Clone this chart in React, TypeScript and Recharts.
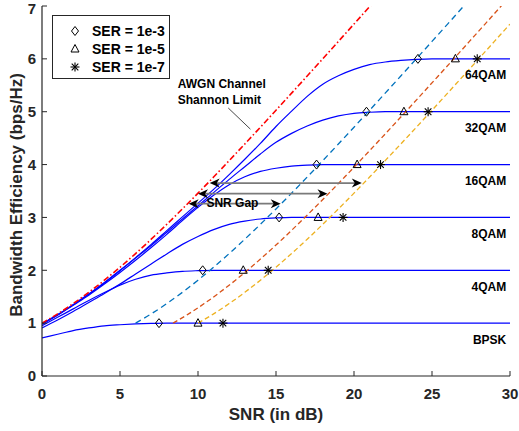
import {
  ComposedChart,
  Line,
  Scatter,
  XAxis,
  YAxis,
  Legend,
  Label,
  ReferenceLine,
  ReferenceDot,
} from "recharts";

const FONT = '"Liberation Sans", Arial, Helvetica, sans-serif';
const INK = "#262626";

// SNR grid (dB) for the modulation capacity curves
const snrGrid = [
  0, 1, 2, 3, 4, 5, 6, 7, 8, 9, 10, 11, 12, 13, 14, 15, 16, 17, 18, 19, 20,
  21, 22, 23, 24, 25, 26, 27, 28, 29, 30,
];

const bpsk = [
  0.72, 0.79, 0.86, 0.91, 0.95, 0.97, 0.985, 0.995, 1, 1, 1, 1, 1, 1, 1, 1, 1,
  1, 1, 1, 1, 1, 1, 1, 1, 1, 1, 1, 1, 1, 1,
];
const qam4 = [
  0.95, 1.11, 1.27, 1.43, 1.58, 1.72, 1.83, 1.91, 1.95, 1.98, 1.993, 2, 2, 2,
  2, 2, 2, 2, 2, 2, 2, 2, 2, 2, 2, 2, 2, 2, 2, 2, 2,
];
const qam8 = [
  0.91, 1.06, 1.22, 1.39, 1.56, 1.74, 1.93, 2.12, 2.31, 2.49, 2.64, 2.77, 2.87,
  2.93, 2.97, 2.99, 3, 3, 3, 3, 3, 3, 3, 3, 3, 3, 3, 3, 3, 3, 3,
];
const qam16 = [
  0.98, 1.15, 1.34, 1.53, 1.74, 1.96, 2.19, 2.43, 2.68, 2.94, 3.19, 3.42, 3.62,
  3.77, 3.87, 3.93, 3.97, 3.99, 4, 4, 4, 4, 4, 4, 4, 4, 4, 4, 4, 4, 4,
];
const qam32 = [
  0.99, 1.16, 1.35, 1.55, 1.76, 1.99, 2.23, 2.47, 2.72, 2.97, 3.22, 3.47, 3.72,
  3.96, 4.2, 4.42, 4.59, 4.73, 4.84, 4.92, 4.97, 4.99, 5, 5, 5, 5, 5, 5, 5, 5, 5,
];
const qam64 = [
  0.99, 1.16, 1.35, 1.55, 1.77, 2.0, 2.24, 2.49, 2.75, 3.01, 3.27, 3.53, 3.81,
  4.1, 4.4, 4.72, 5.01, 5.29, 5.52, 5.68, 5.8, 5.89, 5.94, 5.97, 5.99, 6, 6, 6,
  6, 6, 6,
];

// AWGN Shannon limit
const shannonSnr = [
  0, 1, 2, 3, 4, 5, 6, 7, 8, 9, 10, 11, 12, 13, 14, 15, 16, 17, 18, 19, 20, 21,
  22,
];
const shannon = [
  1.0, 1.175, 1.37, 1.583, 1.812, 2.057, 2.317, 2.588, 2.87, 3.161, 3.459,
  3.764, 4.075, 4.389, 4.707, 5.028, 5.351, 5.676, 6.002, 6.33, 6.658, 6.988,
  7.317,
];

// dashed SER lines
const ser3Snr = [
  6, 7, 8, 9, 10, 11, 12, 13, 14, 15, 16, 17, 18, 19, 20, 21, 22, 23, 24, 25,
  26, 27, 28,
];
const ser3Eff = [
  1.0, 1.175, 1.37, 1.583, 1.812, 2.057, 2.317, 2.588, 2.87, 3.161, 3.459,
  3.764, 4.075, 4.389, 4.707, 5.028, 5.351, 5.676, 6.002, 6.33, 6.658, 6.988,
  7.317,
];
const ser5Snr = [
  8.4, 9.4, 10.4, 11.4, 12.4, 13.4, 14.4, 15.4, 16.4, 17.4, 18.4, 19.4, 20.4,
  21.4, 22.4, 23.4, 24.4, 25.4, 26.4, 27.4, 28.4, 29.4, 30.4,
];
const ser5Eff = [
  1.0, 1.175, 1.37, 1.583, 1.812, 2.057, 2.317, 2.588, 2.87, 3.161, 3.459,
  3.764, 4.075, 4.389, 4.707, 5.028, 5.351, 5.676, 6.002, 6.33, 6.658, 6.988,
  7.317,
];
const ser7Snr = [
  10, 11, 12, 13, 14, 15, 16, 17, 18, 19, 20, 21, 22, 23, 24, 25, 26, 27, 28,
  29, 30,
];
const ser7Eff = [
  1.0, 1.175, 1.37, 1.583, 1.812, 2.057, 2.317, 2.588, 2.87, 3.161, 3.459,
  3.764, 4.075, 4.389, 4.707, 5.028, 5.351, 5.676, 6.002, 6.33, 6.658,
];

// SER markers, one per modulation level
const markLevels = [1, 2, 3, 4, 5, 6];
const ser3Marks = [7.5, 10.3, 15.2, 17.6, 20.8, 24.1];
const ser5Marks = [10.0, 12.9, 17.7, 20.2, 23.2, 26.5];
const ser7Marks = [11.6, 14.5, 19.3, 21.7, 24.75, 27.9];

const modLabels = ["BPSK", "4QAM", "8QAM", "16QAM", "32QAM", "64QAM"];
const legendLabels = ["SER = 1e-3", "SER = 1e-5", "SER = 1e-7"];

// SNR gap arrows
const gapY = [3.65, 3.45, 3.26];
const gapFrom = [10.75, 10.0, 9.4];
const gapTo = [20.5, 18.3, 15.3];

const xTicks = [0, 5, 10, 15, 20, 25, 30];
const yTicks = [0, 1, 2, 3, 4, 5, 6, 7];

function zip(xs: number[], ys: number[]) {
  return xs.map((x, i) => ({ x, y: ys[i] }));
}

type Kind = "diamond" | "triangle" | "asterisk";

function marker(kind: Kind, cx: number, cy: number) {
  if (kind === "diamond") {
    return (
      <polygon
        points={`${cx},${cy - 4.5} ${cx + 3.5},${cy} ${cx},${cy + 4.5} ${cx - 3.5},${cy}`}
        fill="none"
        stroke="#000"
        strokeWidth={1}
      />
    );
  }
  if (kind === "triangle") {
    return (
      <polygon
        points={`${cx},${cy - 4.5} ${cx + 4},${cy + 3} ${cx - 4},${cy + 3}`}
        fill="none"
        stroke="#000"
        strokeWidth={1}
      />
    );
  }
  const d = 3.3;
  return (
    <g stroke="#000" strokeWidth={1.1}>
      <line x1={cx} y1={cy - 4.5} x2={cx} y2={cy + 4.5} />
      <line x1={cx - 4.5} y1={cy} x2={cx + 4.5} y2={cy} />
      <line x1={cx - d} y1={cy - d} x2={cx + d} y2={cy + d} />
      <line x1={cx - d} y1={cy + d} x2={cx + d} y2={cy - d} />
    </g>
  );
}

const kinds: Kind[] = ["diamond", "triangle", "asterisk"];

function LegendBox() {
  return (
    <div
      style={{
        width: 116,
        height: 62,
        border: `1px solid ${INK}`,
        background: "#fff",
        position: "relative",
        fontFamily: FONT,
        fontWeight: "bold",
        fontSize: 14,
        color: "#000",
      }}
    >
      {legendLabels.map((t, i) => (
        <div
          key={t}
          style={{
            position: "absolute",
            left: 0,
            top: 6 + i * 18,
            height: 18,
            display: "flex",
            alignItems: "center",
            whiteSpace: "nowrap",
          }}
        >
          <svg width={39} height={18}>
            {marker(kinds[i], 22, 9)}
          </svg>
          <span>{t}</span>
        </div>
      ))}
    </div>
  );
}

function GapArrow(p: any) {
  const { x1, y1, x2, y2 } = p;
  const L = 10;
  const W = 4.5;
  return (
    <g>
      <line
        x1={x1 + 6}
        y1={y1}
        x2={x2 - 6}
        y2={y2}
        stroke="#7a7a7a"
        strokeWidth={1.8}
      />
      <polygon
        points={`${x1},${y1} ${x1 + L},${y1 - W} ${x1 + L - 3},${y1} ${x1 + L},${y1 + W}`}
        fill="#000"
      />
      <polygon
        points={`${x2},${y2} ${x2 - L},${y2 - W} ${x2 - L + 3},${y2} ${x2 - L},${y2 + W}`}
        fill="#000"
      />
    </g>
  );
}

const textStyle = {
  fontFamily: FONT,
  fontWeight: "bold" as const,
  fill: "#000",
};

function textAt(str: string, size: number, anchor: "start" | "end") {
  return (p: any) => (
    <text
      x={p.cx}
      y={p.cy}
      fontSize={size}
      textAnchor={anchor}
      {...textStyle}
    >
      {str}
    </text>
  );
}

export default function App() {
  const blue = [bpsk, qam4, qam8, qam16, qam32, qam64];

  return (
    <div style={{ position: "absolute", left: 0, top: 0, background: "#fff" }}>
      <ComposedChart
        width={519}
        height={431}
        margin={{ top: 6, right: 9, bottom: 0, left: 0 }}
      >
        <XAxis
          xAxisId="main"
          type="number"
          dataKey="x"
          domain={[0, 30]}
          ticks={xTicks}
          allowDataOverflow
          height={55}
          tickSize={-5}
          tickMargin={17}
          axisLine={{ stroke: INK, strokeWidth: 1.2 }}
          tickLine={{ stroke: INK }}
          tick={{ fill: INK, fontSize: 15, fontWeight: "bold", fontFamily: FONT }}
        >
          <Label
            content={(props: any) => {
              const vb = props.viewBox;
              return (
                <text
                  x={vb.x + vb.width / 2}
                  y={vb.y + 44}
                  textAnchor="middle"
                  fontSize={17}
                  fontWeight="bold"
                  fontFamily={FONT}
                  fill={INK}
                >
                  SNR (in dB)
                </text>
              );
            }}
          />
        </XAxis>
        <XAxis
          xAxisId="top"
          orientation="top"
          type="number"
          domain={[0, 30]}
          ticks={xTicks}
          allowDataOverflow
          height={0}
          tickSize={-5}
          tick={false}
          axisLine={{ stroke: INK, strokeWidth: 1.2 }}
          tickLine={{ stroke: INK }}
        />
        <YAxis
          yAxisId="main"
          type="number"
          domain={[0, 7]}
          ticks={yTicks}
          allowDataOverflow
          width={42}
          tickSize={-5}
          tickMargin={11}
          axisLine={{ stroke: INK, strokeWidth: 1.2 }}
          tickLine={{ stroke: INK }}
          tick={{ fill: INK, fontSize: 15, fontWeight: "bold", fontFamily: FONT }}
        >
          <Label
            content={(props: any) => {
              const vb = props.viewBox;
              const cy = vb.y + vb.height / 2 + 4;
              return (
                <text
                  transform={`translate(${vb.x + 22}, ${cy}) rotate(-90)`}
                  textAnchor="middle"
                  fontSize={17}
                  fontWeight="bold"
                  fontFamily={FONT}
                  fill={INK}
                >
                  Bandwidth Efficiency (bps/Hz)
                </text>
              );
            }}
          />
        </YAxis>
        <YAxis
          yAxisId="right"
          orientation="right"
          type="number"
          domain={[0, 7]}
          ticks={yTicks}
          allowDataOverflow
          width={0}
          tickSize={-5}
          tick={false}
          axisLine={{ stroke: INK, strokeWidth: 1.2 }}
          tickLine={{ stroke: INK }}
        />

        {blue.map((ys, i) => (
          <Line
            key={modLabels[i]}
            xAxisId="main"
            yAxisId="main"
            data={zip(snrGrid, ys)}
            dataKey="y"
            type="monotone"
            stroke="#0000ff"
            strokeWidth={1.2}
            dot={false}
            legendType="none"
            isAnimationActive={false}
          />
        ))}

        <Line
          xAxisId="main"
          yAxisId="main"
          data={zip(ser3Snr, ser3Eff)}
          dataKey="y"
          type="monotone"
          stroke="#0072BD"
          strokeWidth={1.3}
          strokeDasharray="6 4"
          dot={false}
          legendType="none"
          isAnimationActive={false}
        />
        <Line
          xAxisId="main"
          yAxisId="main"
          data={zip(ser5Snr, ser5Eff)}
          dataKey="y"
          type="monotone"
          stroke="#D95319"
          strokeWidth={1.3}
          strokeDasharray="5 3"
          dot={false}
          legendType="none"
          isAnimationActive={false}
        />
        <Line
          xAxisId="main"
          yAxisId="main"
          data={zip(ser7Snr, ser7Eff)}
          dataKey="y"
          type="monotone"
          stroke="#EDB120"
          strokeWidth={1.3}
          strokeDasharray="5 3"
          dot={false}
          legendType="none"
          isAnimationActive={false}
        />

        <Line
          xAxisId="main"
          yAxisId="main"
          data={zip(shannonSnr, shannon)}
          dataKey="y"
          type="monotone"
          stroke="#ff0000"
          strokeWidth={1.6}
          strokeDasharray="6 2.5 1.5 2.5"
          dot={false}
          legendType="none"
          isAnimationActive={false}
        />

        {[ser3Marks, ser5Marks, ser7Marks].map((xs, i) => (
          <Scatter
            key={legendLabels[i]}
            xAxisId="main"
            yAxisId="main"
            data={zip(xs, markLevels)}
            dataKey="y"
            legendType="none"
            isAnimationActive={false}
            shape={(p: any) => marker(kinds[i], p.cx, p.cy)}
          />
        ))}

        {gapY.map((y, i) => (
          <ReferenceLine
            key={`gap${i}`}
            xAxisId="main"
            yAxisId="main"
            segment={[
              { x: gapFrom[i], y },
              { x: gapTo[i], y },
            ]}
            shape={(p: any) => <GapArrow {...p} />}
          />
        ))}

        <ReferenceLine
          xAxisId="main"
          yAxisId="main"
          segment={[
            { x: 11.94, y: 5.07 },
            { x: 13.36, y: 4.67 },
          ]}
          stroke="#333"
          strokeWidth={0.9}
        />
        <ReferenceDot
          xAxisId="main"
          yAxisId="main"
          x={8.7}
          y={5.45}
          r={0}
          shape={textAt("AWGN Channel", 12, "start")}
        />
        <ReferenceDot
          xAxisId="main"
          yAxisId="main"
          x={8.7}
          y={5.15}
          r={0}
          shape={textAt("Shannon Limit", 12, "start")}
        />
        <ReferenceDot
          xAxisId="main"
          yAxisId="main"
          x={10.54}
          y={3.2}
          r={0}
          shape={textAt("SNR Gap", 12, "start")}
        />
        {modLabels.map((m, i) => (
          <ReferenceDot
            key={m}
            xAxisId="main"
            yAxisId="main"
            x={29.76}
            y={markLevels[i] - 0.39}
            r={0}
            shape={textAt(m, 12, "end")}
          />
        ))}

        <Legend
          layout="vertical"
          align="center"
          verticalAlign="middle"
          wrapperStyle={{ left: 52, top: 15, width: 118 }}
          content={() => <LegendBox />}
        />
      </ComposedChart>
    </div>
  );
}
